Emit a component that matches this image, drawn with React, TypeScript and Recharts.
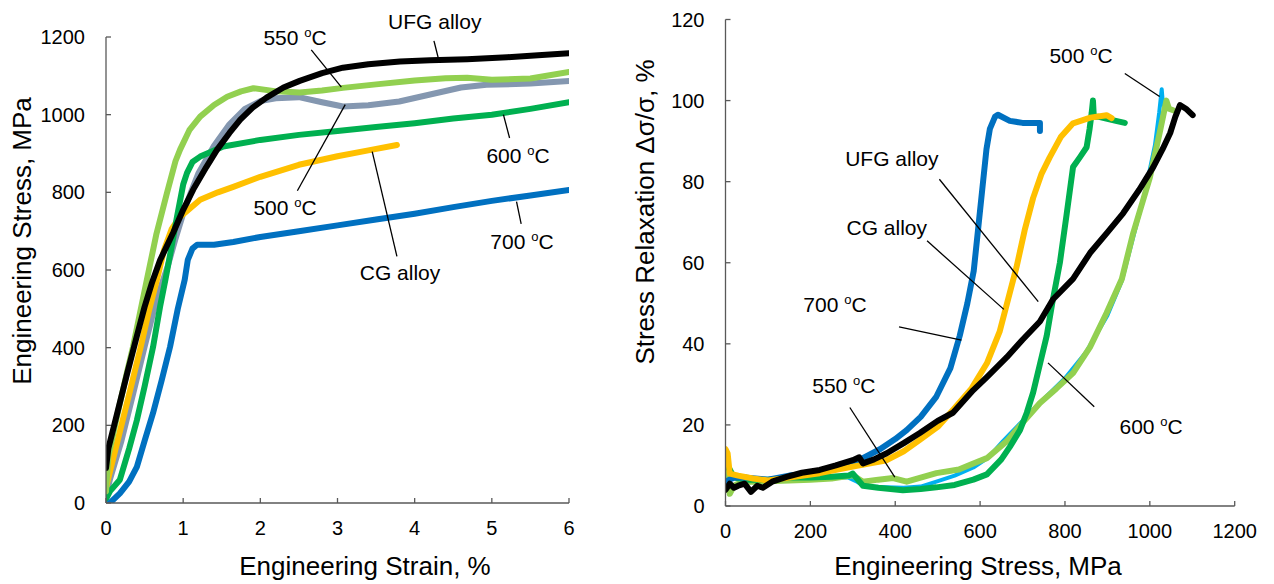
import React from 'react'
import { LineChart, Line, XAxis, YAxis, ReferenceLine, ReferenceDot } from 'recharts'

const FONT = '"Liberation Sans", Arial, sans-serif'
const AXIS = '#595959'

// ---- left panel: engineering stress (MPa) vs engineering strain (%) ----
const ufgStrain = [0, 0.03, 0.15, 0.27, 0.4, 0.5, 0.6, 0.7, 0.87, 1.0, 1.13, 1.3, 1.44, 1.6, 1.74, 1.9, 2.08, 2.3, 2.51, 2.8, 3.07, 3.4, 3.81, 4.2, 4.68, 5.2, 5.6, 6.0]
const ufgStress = [90, 140, 235, 330, 430, 505, 570, 625, 696, 755, 807, 865, 910, 953, 987, 1018, 1044, 1070, 1087, 1107, 1121, 1130, 1137, 1140, 1143, 1148, 1153, 1158]

const cgStrain = [0, 0.05, 0.2, 0.3, 0.45, 0.55, 0.66, 0.75, 0.85, 0.95, 1.05, 1.22, 1.45, 1.65, 2.0, 2.5, 3.0, 3.4, 3.77]
const cgStress = [40, 80, 200, 280, 402, 490, 575, 650, 705, 735, 752, 781, 800, 814, 840, 871, 893, 908, 922]

const t500Strain = [0, 0.05, 0.2, 0.35, 0.5, 0.65, 0.8, 0.9, 1.0, 1.1, 1.2, 1.4, 1.6, 1.8, 2.0, 2.2, 2.5, 2.8, 3.07, 3.4, 3.8, 4.2, 4.6, 4.93, 5.5, 6.0]
const t500Stress = [20, 60, 160, 280, 402, 520, 610, 680, 745, 800, 850, 920, 975, 1015, 1035, 1042, 1045, 1032, 1021, 1024, 1034, 1052, 1070, 1077, 1080, 1087]

const t550Strain = [0, 0.03, 0.15, 0.27, 0.35, 0.53, 0.65, 0.79, 0.9, 0.96, 1.08, 1.22, 1.4, 1.57, 1.75, 1.91, 2.21, 2.51, 2.8, 3.07, 3.5, 4.0, 4.4, 4.68, 5.0, 5.5, 6.0]
const t550Stress = [30, 120, 230, 335, 402, 575, 690, 798, 880, 910, 960, 995, 1025, 1046, 1060, 1068, 1060, 1057, 1062, 1069, 1078, 1088, 1094, 1095, 1090, 1093, 1110]

const t600Strain = [0, 0.05, 0.18, 0.3, 0.4, 0.5, 0.61, 0.7, 0.77, 0.85, 0.92, 1.0, 1.05, 1.12, 1.22, 1.52, 2.0, 2.5, 3.0, 3.5, 4.0, 4.5, 5.0, 5.5, 6.0]
const t600Stress = [10, 30, 60, 140, 213, 300, 402, 505, 575, 660, 737, 820, 850, 878, 892, 918, 935, 948, 958, 968, 978, 990, 1000, 1015, 1032]

const t700Strain = [0.05, 0.18, 0.3, 0.4, 0.5, 0.61, 0.72, 0.83, 0.93, 1.02, 1.06, 1.12, 1.18, 1.4, 1.65, 2.0, 2.5, 3.0, 3.5, 4.0, 4.5, 5.0, 5.5, 6.0]
const t700Stress = [0, 25, 55, 93, 160, 232, 315, 402, 500, 575, 626, 655, 665, 665, 672, 685, 700, 715, 730, 745, 762, 778, 792, 806]

const strainTicks = [0, 1, 2, 3, 4, 5, 6]
const stressTicks = [0, 200, 400, 600, 800, 1000, 1200]

// ---- right panel: stress relaxation (%) vs engineering stress (MPa) ----
const rUfgStress = [0, 10, 20, 30, 45, 60, 75, 88, 110, 144, 180, 222, 260, 300, 315, 324, 350, 380, 420, 458, 500, 536, 584, 616, 663, 700, 741, 772, 819, 859, 900, 937, 975, 1008, 1030, 1048, 1060, 1071, 1085, 1101]
const rUfgRelax = [4, 5.5, 4.5, 5, 5.5, 3.5, 5, 4.5, 6, 7.2, 8.2, 8.9, 10, 11.3, 12, 10.5, 11.5, 13, 15.5, 18, 21, 23, 28.6, 31.8, 36.7, 41, 45.5, 51, 56, 62.4, 67.5, 72.2, 78, 83.6, 88, 92, 96, 98.9, 98, 96.4]

const rCgStress = [0, 5, 10, 30, 65, 100, 150, 222, 300, 380, 420, 458, 500, 536, 580, 616, 646, 666, 686, 705, 725, 745, 764, 790, 819, 860, 898, 910]
const rCgRelax = [14, 13, 8, 7.5, 6.8, 6.3, 7, 8.1, 9.7, 11.3, 13.5, 16.3, 19.5, 23.7, 29, 35.2, 43, 51, 59, 68, 76, 82, 86, 91, 94.4, 95.8, 96.4, 95.7]

const r500Stress = [0, 20, 50, 100, 150, 200, 250, 290, 310, 330, 380, 420, 460, 497, 540, 584, 620, 654, 700, 741, 800, 850, 900, 934, 960, 990, 1012, 1022, 1028, 1031]
const r500Relax = [7, 7, 6.5, 6, 6.5, 7, 7, 7, 6, 4.8, 4.6, 4.5, 4.8, 6, 7.5, 9.5, 12, 16, 21, 25.5, 31.5, 38, 47, 55.5, 66, 78, 89, 97, 102.8, 99]

const r550Stress = [0, 5, 10, 20, 40, 80, 150, 200, 250, 300, 324, 360, 395, 427, 460, 497, 550, 584, 616, 663, 700, 741, 780, 819, 859, 898, 934, 960, 980, 1000, 1023, 1039, 1045, 1055]
const r550Relax = [4, 8, 3, 5, 6, 6, 6.3, 6.5, 6.8, 7.6, 6, 6.5, 6.9, 6, 7, 8.1, 9, 10.5, 11.8, 16, 20.5, 25.4, 29, 32.8, 39.2, 47.6, 56, 67, 74, 81, 92, 100, 98, 97.6]

const r600Stress = [0, 10, 20, 50, 100, 150, 200, 250, 290, 300, 324, 360, 418, 460, 497, 540, 584, 616, 650, 670, 694, 710, 725, 741, 757, 770, 788, 804, 819, 835, 851, 858, 863, 866, 868, 880, 900, 920, 941]
const r600Relax = [10, 9, 7, 6.5, 6.5, 7, 7, 7.2, 7.5, 8, 5, 4.5, 3.9, 4.2, 4.6, 5.2, 6.5, 7.8, 11.5, 14.6, 18.7, 23, 28, 35, 42, 50, 60, 72, 83.6, 86, 88.5, 93, 97, 100, 96, 96, 95.5, 95, 94.5]

const r700Stress = [0, 20, 50, 100, 150, 200, 250, 300, 364, 400, 427, 460, 497, 530, 552, 570, 585, 595, 605, 615, 623, 635, 642, 670, 700, 730, 741, 741]
const r700Relax = [6, 7, 7, 6.5, 7.5, 8, 9, 10.5, 14, 16.5, 18.7, 22, 27, 34, 42, 50, 58, 68, 78, 88, 93, 96, 96.5, 95, 94.5, 94.5, 94.5, 92.5]

const relaxStressTicks = [0, 200, 400, 600, 800, 1000, 1200]
const relaxTicks = [0, 20, 40, 60, 80, 100, 120]

const zip = (xs: number[], ys: number[]) => xs.map((x, i) => ({ x, y: ys[i] }))

const Note = ({ cx, cy, text, deg }: { cx?: number; cy?: number; text: string; deg?: boolean }) => (
  <text x={cx} y={cy} dy="0.36em" textAnchor="middle" fontSize={21} fontFamily={FONT} fill="#000">
    {text}
    {deg && (
      <>
        <tspan dy={-8} fontSize={13}>o</tspan>
        <tspan dy={8}>C</tspan>
      </>
    )}
  </text>
)

// annotations: [label, isTemp, labelX, labelY, lineX1, lineY1, lineX2, lineY2] in data units
const leftNotes: [string, boolean, number, number, number, number, number, number][] = [
  ['550 ', true, 2.45, 1200, 2.66, 1167, 3.05, 1071],
  ['UFG alloy', false, 4.26, 1240, 4.25, 1190, 4.32, 1135],
  ['500 ', true, 2.32, 760, 2.48, 804, 3.1, 1026],
  ['CG alloy', false, 3.81, 595, 3.45, 905, 3.77, 635],
  ['600 ', true, 5.34, 894, 5.15, 1000, 5.23, 940],
  ['700 ', true, 5.39, 673, 5.32, 776, 5.38, 719],
]
const rightNotes: [string, boolean, number, number, number, number, number, number][] = [
  ['500 ', true, 838, 111.2, 941, 106.7, 1023, 101],
  ['UFG alloy', false, 392, 85.8, 504, 80.6, 737, 50.4],
  ['CG alloy', false, 380, 68.6, 475, 65.4, 656, 48.5],
  ['700 ', true, 258, 49.6, 409, 44.2, 556, 40.9],
  ['550 ', true, 279, 29.8, 293, 24.3, 399, 7.1],
  ['600 ', true, 1003, 19.7, 760, 35.3, 869, 24.5],
]

const tickStyle = { fill: '#000', fontSize: 20, fontFamily: FONT }
const axisStyle = { stroke: AXIS, strokeWidth: 1.3 }

function renderNotes(notes: typeof leftNotes) {
  return notes.flatMap(([label, deg, lx, ly, x1, y1, x2, y2], i) => [
    <ReferenceLine
      key={`l${i}`}
      segment={[{ x: x1, y: y1 }, { x: x2, y: y2 }]}
      stroke="#000"
      strokeWidth={1.3}
      ifOverflow="visible"
    />,
    <ReferenceDot
      key={`d${i}`}
      x={lx}
      y={ly}
      r={0}
      ifOverflow="visible"
      shape={(p: any) => <Note cx={p.cx} cy={p.cy} text={label} deg={deg} />}
    />,
  ])
}

const titleStyle: React.CSSProperties = {
  position: 'absolute',
  fontFamily: FONT,
  fontSize: 26,
  color: '#000',
  whiteSpace: 'nowrap',
  lineHeight: 1,
}

function series(data: { x: number; y: number }[], color: string, width = 6) {
  return (
    <Line
      data={data}
      dataKey="y"
      type="linear"
      stroke={color}
      strokeWidth={width}
      strokeLinecap="round"
      strokeLinejoin="round"
      dot={false}
      activeDot={false}
      isAnimationActive={false}
    />
  )
}

export default function App() {
  return (
    <div style={{ position: 'absolute', left: 0, top: 0, width: 1274, height: 584, background: '#fff' }}>
      <div style={{ position: 'absolute', left: 0, top: 0 }}>
        <LineChart width={600} height={584} margin={{ top: 37, right: 31, bottom: 0, left: 0 }}>
          <XAxis
            type="number"
            dataKey="x"
            domain={[0, 6]}
            ticks={strainTicks}
            interval={0}
            allowDataOverflow
            height={81}
            tickSize={-5}
            tickMargin={23}
            axisLine={axisStyle}
            tickLine={axisStyle}
            tick={tickStyle}
          />
          <YAxis
            type="number"
            domain={[0, 1200]}
            ticks={stressTicks}
            interval={0}
            allowDataOverflow
            width={106}
            tickSize={-5}
            tickMargin={26}
            axisLine={axisStyle}
            tickLine={axisStyle}
            tick={tickStyle}
          />
          {series(zip(t500Strain, t500Stress), '#8497B0')}
          {series(zip(cgStrain, cgStress), '#FFC000')}
          {series(zip(t600Strain, t600Stress), '#00B050')}
          {series(zip(t700Strain, t700Stress), '#0070C0')}
          {series(zip(t550Strain, t550Stress), '#92D050')}
          {series(zip(ufgStrain, ufgStress), '#000000')}
          {renderNotes(leftNotes)}
        </LineChart>
      </div>
      <div style={{ position: 'absolute', left: 600, top: 0 }}>
        <LineChart width={674} height={584} margin={{ top: 19.5, right: 39.3, bottom: 0, left: 0 }}>
          <XAxis
            type="number"
            dataKey="x"
            domain={[0, 1200]}
            ticks={relaxStressTicks}
            interval={0}
            allowDataOverflow
            height={78}
            tickSize={-5}
            tickMargin={23}
            axisLine={axisStyle}
            tickLine={axisStyle}
            tick={tickStyle}
          />
          <YAxis
            type="number"
            domain={[0, 120]}
            ticks={relaxTicks}
            interval={0}
            allowDataOverflow
            width={125.5}
            tickSize={-5}
            tickMargin={26}
            axisLine={axisStyle}
            tickLine={axisStyle}
            tick={tickStyle}
          />
          {series(zip(r500Stress, r500Relax), '#00B0F0', 4)}
          {series(zip(r550Stress, r550Relax), '#92D050')}
          {series(zip(r600Stress, r600Relax), '#00B050')}
          {series(zip(r700Stress, r700Relax), '#0070C0')}
          {series(zip(rCgStress, rCgRelax), '#FFC000')}
          {series(zip(rUfgStress, rUfgRelax), '#000000')}
          {renderNotes(rightNotes)}
        </LineChart>
      </div>
      <div style={{ ...titleStyle, left: 22, top: 241, transform: 'translate(-50%, -50%) rotate(-90deg)' }}>
        Engineering Stress, MPa
      </div>
      <div style={{ ...titleStyle, left: 365, top: 566, transform: 'translate(-50%, -50%)' }}>
        Engineering Strain, %
      </div>
      <div style={{ ...titleStyle, left: 645, top: 212, transform: 'translate(-50%, -50%) rotate(-90deg)' }}>
        Stress Relaxation Δσ/σ, %
      </div>
      <div style={{ ...titleStyle, left: 978, top: 566, transform: 'translate(-50%, -50%)' }}>
        Engineering Stress, MPa
      </div>
    </div>
  )
}
